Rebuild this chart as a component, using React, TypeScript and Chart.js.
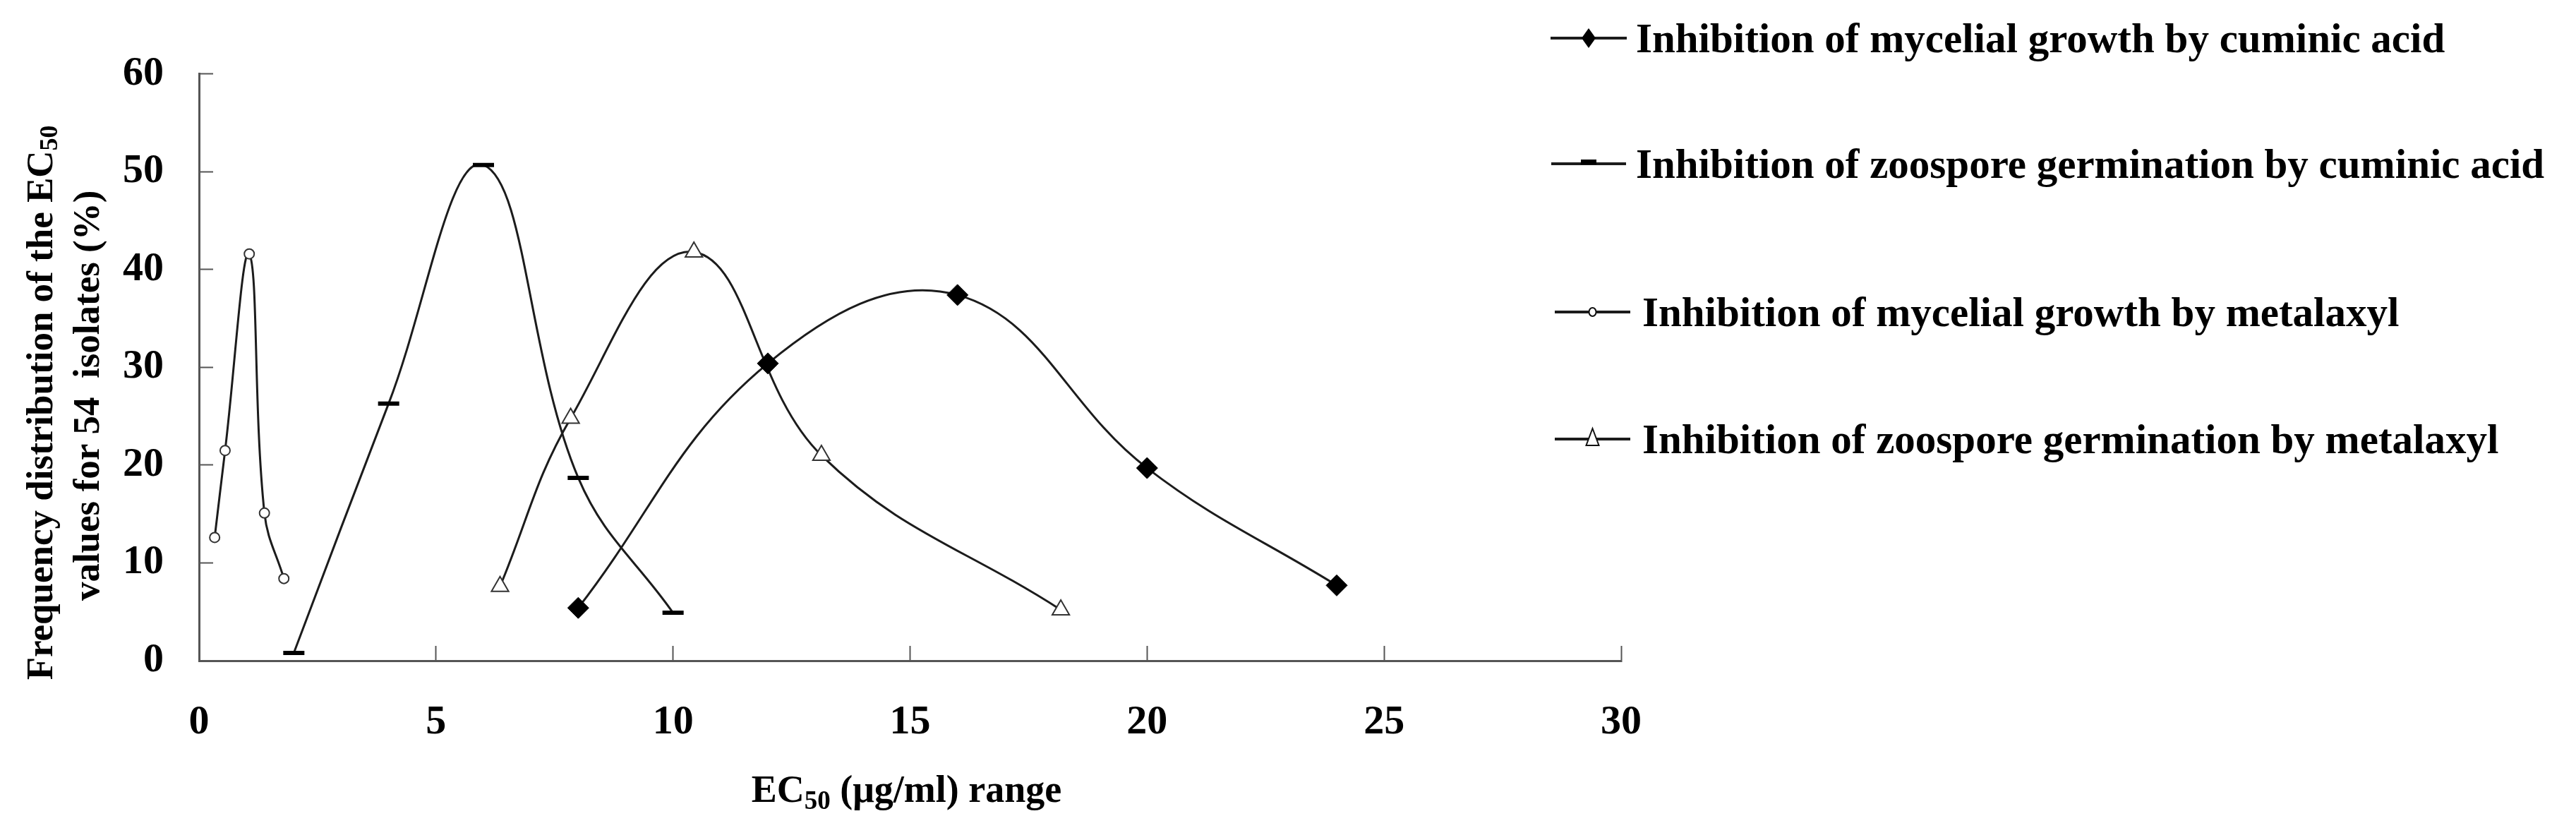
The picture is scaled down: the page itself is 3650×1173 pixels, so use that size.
import React, { useEffect, useRef } from "react";
import { Chart, registerables } from "chart.js";

Chart.register(...registerables);

const FONT = '"Liberation Serif", "Times New Roman", Times, serif';

// ---- data ----
const seriesLabels = [
  "Inhibition of mycelial growth by cuminic acid",
  "Inhibition of zoospore germination by cuminic acid",
  "Inhibition of mycelial growth by metalaxyl",
  "Inhibition of zoospore germination by metalaxyl",
];
const cuminicMycelialX = [8, 12, 16, 20, 24];
const cuminicMycelialY = [5.4, 30.4, 37.4, 19.7, 7.7];
const cuminicZoosporeX = [2, 4, 6, 8, 10];
const cuminicZoosporeY = [0.8, 26.3, 50.7, 18.7, 4.9];
const metalaxylMycelialX = [0.33, 0.55, 1.06, 1.38, 1.79];
const metalaxylMycelialY = [12.6, 21.5, 41.6, 15.1, 8.4];
const metalaxylZoosporeX = [6.35, 7.84, 10.44, 13.13, 18.18];
const metalaxylZoosporeY = [7.6, 24.8, 41.8, 21.0, 5.2];

const xMin = 0;
const xMax = 30;
const xStep = 5;
const yMin = 0;
const yMax = 60;
const yStep = 10;

const xTitleParts = ["EC", "50", " (μg/ml) range"];
const yTitleLine1Parts = ["Frequency distribution of the EC", "50"];
const yTitleLine2 = "values for 54  isolates (%)";

const toPoints = (xs: number[], ys: number[]) => xs.map((x, i) => ({ x, y: ys[i] }));

// ---- layout constants ----
const W = 3650;
const H = 1173;
const AREA_LEFT = 282;
const AREA_RIGHT = 2297;
const AREA_TOP = 86;
const AREA_BOTTOM = 936;
const LINE_COLOR = "#1c1c1c";

const legendRows = [
  { y: 54, lineX0: 2197, lineX1: 2305, textX: 2318 },
  { y: 232, lineX0: 2198, lineX1: 2304, textX: 2318 },
  { y: 442, lineX0: 2203, lineX1: 2310, textX: 2327 },
  { y: 622, lineX0: 2203, lineX1: 2310, textX: 2327 },
];

function drawLegendMarker(ctx: CanvasRenderingContext2D, style: string, cx: number, cy: number) {
  ctx.save();
  ctx.lineWidth = 2;
  ctx.strokeStyle = "#111";
  if (style === "rectRot") {
    ctx.fillStyle = "#000";
    ctx.beginPath();
    ctx.moveTo(cx, cy - 14);
    ctx.lineTo(cx + 10, cy);
    ctx.lineTo(cx, cy + 14);
    ctx.lineTo(cx - 10, cy);
    ctx.closePath();
    ctx.fill();
  } else if (style === "line") {
    ctx.fillStyle = "#000";
    ctx.fillRect(cx - 11, cy - 6, 22, 7);
  } else if (style === "circle") {
    ctx.fillStyle = "#fff";
    ctx.beginPath();
    ctx.ellipse(cx, cy, 5, 6, 0, 0, Math.PI * 2);
    ctx.fill();
    ctx.stroke();
  } else if (style === "triangle") {
    ctx.fillStyle = "#fff";
    ctx.beginPath();
    ctx.moveTo(cx, cy - 15);
    ctx.lineTo(cx + 9, cy + 9);
    ctx.lineTo(cx - 9, cy + 9);
    ctx.closePath();
    ctx.fill();
    ctx.stroke();
  }
  ctx.restore();
}

const textPlugin = {
  id: "customTexts",
  afterDraw(chart: any) {
    const ctx: CanvasRenderingContext2D = chart.ctx;
    const area = chart.chartArea;
    ctx.save();
    ctx.fillStyle = "#000";

    // X axis title with subscript
    {
      const big = `bold 54px ${FONT}`;
      const small = `bold 37px ${FONT}`;
      ctx.font = big;
      const w1 = ctx.measureText(xTitleParts[0]).width;
      const w3 = ctx.measureText(xTitleParts[2]).width;
      ctx.font = small;
      const w2 = ctx.measureText(xTitleParts[1]).width;
      const total = w1 + w2 + w3;
      const cx = (area.left + area.right) / 2 - 5;
      const baseY = area.bottom + 200;
      let x = cx - total / 2;
      ctx.textBaseline = "alphabetic";
      ctx.textAlign = "left";
      ctx.font = big;
      ctx.fillText(xTitleParts[0], x, baseY);
      x += w1;
      ctx.font = small;
      ctx.fillText(xTitleParts[1], x, baseY + 10);
      x += w2;
      ctx.font = big;
      ctx.fillText(xTitleParts[2], x, baseY);
    }

    // Y axis title (two rotated lines)
    {
      const big = `bold 53px ${FONT}`;
      const small = `bold 36px ${FONT}`;
      const midY = (area.top + area.bottom) / 2;
      // line 1
      ctx.save();
      ctx.translate(60, midY + 50);
      ctx.rotate(-Math.PI / 2);
      ctx.font = big;
      const a = ctx.measureText(yTitleLine1Parts[0]).width;
      ctx.font = small;
      const b = ctx.measureText(yTitleLine1Parts[1]).width;
      let x = -(a + b) / 2;
      ctx.textBaseline = "middle";
      ctx.textAlign = "left";
      ctx.font = big;
      ctx.fillText(yTitleLine1Parts[0], x, 0);
      x += a;
      ctx.font = small;
      ctx.fillText(yTitleLine1Parts[1], x, 12);
      ctx.restore();
      // line 2
      ctx.save();
      ctx.translate(126, midY + 40);
      ctx.rotate(-Math.PI / 2);
      ctx.font = big;
      ctx.textBaseline = "middle";
      ctx.textAlign = "center";
      ctx.fillText(yTitleLine2, 0, 0);
      ctx.restore();
    }

    // Legend
    chart.data.datasets.forEach((ds: any, i: number) => {
      const row = legendRows[i];
      if (!row) return;
      ctx.save();
      ctx.strokeStyle = LINE_COLOR;
      ctx.lineWidth = 4;
      ctx.beginPath();
      ctx.moveTo(row.lineX0, row.y);
      ctx.lineTo(row.lineX1, row.y);
      ctx.stroke();
      drawLegendMarker(ctx, ds.pointStyle, (row.lineX0 + row.lineX1) / 2, row.y);
      ctx.fillStyle = "#000";
      ctx.font = `bold 59px ${FONT}`;
      ctx.textAlign = "left";
      ctx.textBaseline = "alphabetic";
      ctx.fillText(ds.label, row.textX, row.y + 20);
      ctx.restore();
    });

    ctx.restore();
  },
};

export default function App() {
  const ref = useRef<HTMLCanvasElement>(null);

  useEffect(() => {
    if (!ref.current) return;
    const tickFont = { family: FONT, size: 58, weight: "bold" as const };
    const common = {
      showLine: true,
      tension: 0.4,
      borderColor: LINE_COLOR,
      borderWidth: 3,
      fill: false,
    };
    const chart = new Chart(ref.current, {
      type: "scatter",
      data: {
        datasets: [
          {
            ...common,
            label: seriesLabels[0],
            data: toPoints(cuminicMycelialX, cuminicMycelialY),
            pointStyle: "rectRot",
            pointRadius: 15,
            pointBackgroundColor: "#000",
            pointBorderColor: "#000",
            pointBorderWidth: 1,
          },
          {
            ...common,
            label: seriesLabels[1],
            data: toPoints(cuminicZoosporeX, cuminicZoosporeY),
            pointStyle: "line",
            pointRadius: 15,
            pointBackgroundColor: "#000",
            pointBorderColor: "#000",
            pointBorderWidth: 6,
          },
          {
            ...common,
            label: seriesLabels[2],
            data: toPoints(metalaxylMycelialX, metalaxylMycelialY),
            pointStyle: "circle",
            pointRadius: 7,
            pointBackgroundColor: "#fff",
            pointBorderColor: "#333",
            pointBorderWidth: 2,
          },
          {
            ...common,
            label: seriesLabels[3],
            data: toPoints(metalaxylZoosporeX, metalaxylZoosporeY),
            pointStyle: "triangle",
            pointRadius: 14,
            pointBackgroundColor: "#fff",
            pointBorderColor: "#333",
            pointBorderWidth: 2,
          },
        ] as any,
      },
      options: {
        responsive: false,
        animation: false,
        devicePixelRatio: 1,
        layout: {
          padding: { left: 0, top: AREA_TOP, right: W - AREA_RIGHT, bottom: 0 },
        },
        plugins: {
          legend: { display: false },
          tooltip: { enabled: false },
          title: { display: false },
        },
        scales: {
          x: {
            type: "linear",
            position: "bottom",
            min: xMin,
            max: xMax,
            ticks: {
              stepSize: xStep,
              font: tickFont,
              color: "#000",
              padding: 74,
              maxRotation: 0,
            },
            grid: {
              drawOnChartArea: false,
              drawTicks: true,
              tickLength: -21,
              tickWidth: 2,
              tickColor: "#555",
            },
            border: { display: true, color: "#555", width: 3 },
            afterFit: (s: any) => {
              s.height = H - AREA_BOTTOM;
            },
          },
          y: {
            type: "linear",
            position: "left",
            min: yMin,
            max: yMax,
            ticks: {
              stepSize: yStep,
              font: tickFont,
              color: "#000",
              padding: 70,
            },
            grid: {
              drawOnChartArea: false,
              drawTicks: true,
              tickLength: -20,
              tickWidth: 2,
              tickColor: "#555",
            },
            border: { display: true, color: "#555", width: 3 },
            afterFit: (s: any) => {
              s.width = AREA_LEFT;
            },
          },
        } as any,
      },
      plugins: [textPlugin],
    });
    return () => chart.destroy();
  }, []);

  return (
    <div style={{ position: "fixed", left: 0, top: 0, width: W, height: H, background: "#fff" }}>
      <canvas ref={ref} width={W} height={H} style={{ display: "block", width: W, height: H }} />
    </div>
  );
}
